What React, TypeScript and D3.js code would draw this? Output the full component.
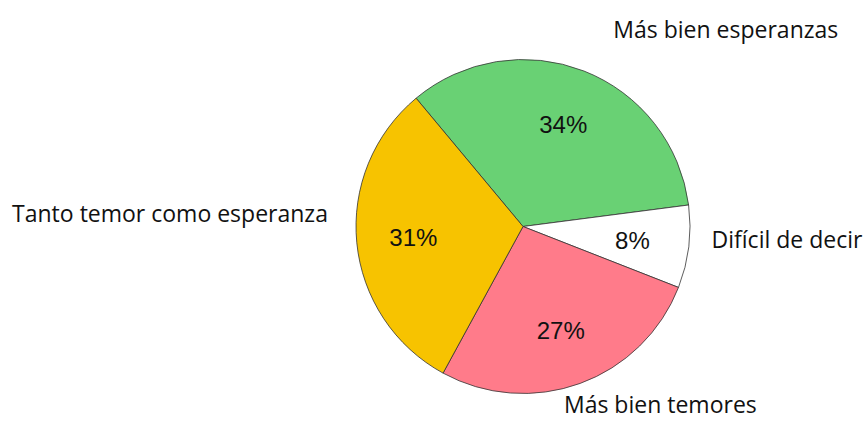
import React from "react";
import * as d3 from "d3";

const categories = ["Más bien esperanzas", "Difícil de decir", "Más bien temores", "Tanto temor como esperanza"];
const values = [34, 8, 27, 31];
const colors = ["#69d174", "#ffffff", "#ff7b8a", "#f7c300"];
// hand-placed label nudges (dx, dy to baseline) relative to the outer label radius
const labelNudge = [[21, -11.5], [0, -1.5], [-24, 7.5], [-6, -23]];

const width = 866;
const height = 421;
const cx = 523;
const cy = 226.5;
const radius = 167;

export default function App() {
  const pie = d3.pie<number>()
    .sort(null)
    .startAngle((-39.8 * Math.PI) / 180)
    .endAngle(((360 - 39.8) * Math.PI) / 180);
  const arcs = pie(values);

  const arc = d3.arc<d3.PieArcDatum<number>>().innerRadius(0).outerRadius(radius);
  const inner = d3.arc<d3.PieArcDatum<number>>().innerRadius(radius * 0.66).outerRadius(radius * 0.66);
  const outer = d3.arc<d3.PieArcDatum<number>>().innerRadius(190).outerRadius(190);

  return (
    <svg width={width} height={height} style={{ position: "absolute", left: 0, top: 0 }}>
      <rect width={width} height={height} fill="#fff" />
      <g transform={`translate(${cx},${cy})`}>
        {arcs.map((a, i) => (
          <path key={i} d={arc(a) ?? ""} fill={colors[i]} stroke="#333" strokeWidth={0.8} />
        ))}
        {arcs.map((a, i) => {
          const [x, y] = inner.centroid(a);
          return (
            <text key={"p" + i} x={x} y={y} dy="0.36em" textAnchor="middle"
              fontFamily="'Liberation Sans', Arial, sans-serif" fontSize={24} fill="#111">
              {values[i]}%
            </text>
          );
        })}
        {arcs.map((a, i) => {
          const [x, y] = outer.centroid(a);
          const mid = (a.startAngle + a.endAngle) / 2;
          const right = Math.sin(mid) > 0;
          return (
            <text key={"l" + i} x={x + labelNudge[i][0]} y={y + labelNudge[i][1]}
              textAnchor={right ? "start" : "end"}
              fontFamily="'Open Sans', sans-serif" fontSize={23} fill="#111">
              {categories[i]}
            </text>
          );
        })}
      </g>
    </svg>
  );
}
